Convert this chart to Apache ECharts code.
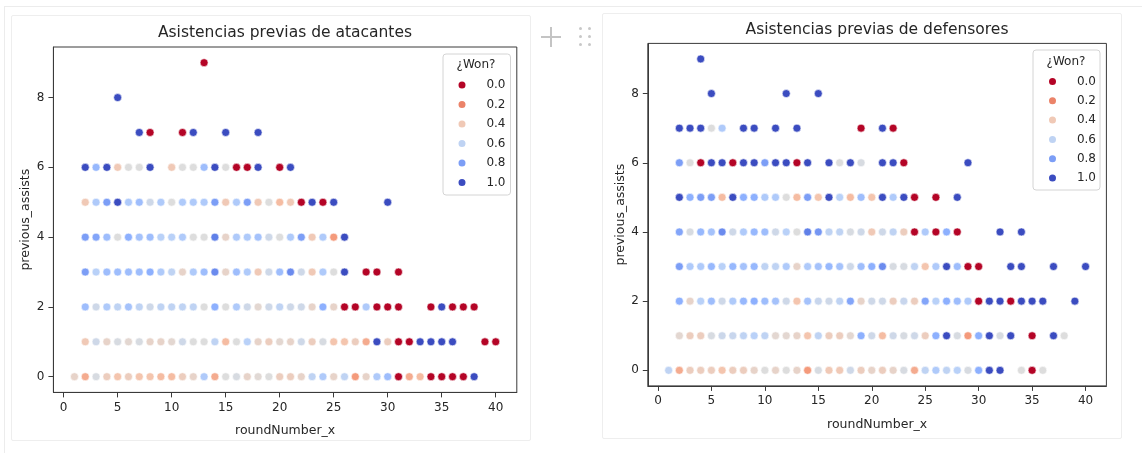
<!DOCTYPE html>
<html>
<head>
<meta charset="utf-8">
<script src="https://cdn.jsdelivr.net/npm/echarts@6/dist/echarts.min.js"></script>
<style>
    body {margin:0;background:#fff;font-family:"DejaVu Sans",sans-serif;}
    .cell-top {position:absolute;left:4px;top:6px;width:1138px;height:447px;border-top:1px solid #ececec;border-left:1px solid #ececec;}
    .fig-box {position:absolute;border:1px solid #eeeeee;border-radius:2px;}
    .plus-h {position:absolute;left:541px;top:36px;width:20px;height:1.5px;background:#c4c4c4;}
    .plus-v {position:absolute;left:550px;top:27px;width:1.5px;height:20px;background:#c4c4c4;}
    .dot {position:absolute;width:3px;height:3px;border-radius:50%;background:#c8c8c8;}
    #chart {position:absolute;left:0;top:0;width:1142px;height:453px;}
</style>
</head>
<body>
<div class="cell-top"></div>
<div class="fig-box" style="left:11px;top:15px;width:518px;height:424px;"></div>
<div class="fig-box" style="left:602px;top:13px;width:518px;height:424px;"></div>
<div class="plus-h"></div><div class="plus-v"></div>
<div class="dot" style="left:579px;top:27px"></div><div class="dot" style="left:588px;top:27px"></div>
<div class="dot" style="left:579px;top:35px"></div><div class="dot" style="left:588px;top:35px"></div>
<div class="dot" style="left:579px;top:43px"></div><div class="dot" style="left:588px;top:43px"></div>
<div id="chart"></div>
<script>
    // ticks and legend levels
    var ticksX = [0, 5, 10, 15, 20, 25, 30, 35, 40];
    var ticksY = [0, 2, 4, 6, 8];
    var wonLevels = ['0.0', '0.2', '0.4', '0.6', '0.8', '1.0'];
    // coolwarm reversed: 0 -> red, 1 -> blue
    var coolwarmR = ['#b40426', '#de604d', '#f49a7b', '#f5c4ac', '#dddddd', '#b8d0f9', '#8db0fe', '#6282ea', '#3b4cc0'];

    // [roundNumber_x, previous_assists, won]
    var atacantes = [
        [13, 9, 0],
        [5, 8, 1],
        [7, 7, 1], [8, 7, 0], [11, 7, 0], [12, 7, 1], [15, 7, 1], [18, 7, 1],
        [2, 6, 1], [3, 6, 0.72], [4, 6, 1], [5, 6, 0.4], [6, 6, 0.5], [7, 6, 0.5], [8, 6, 1], [10, 6, 0.4], [11, 6, 0.5],
        [12, 6, 0.5], [13, 6, 0.7], [14, 6, 1], [15, 6, 0.5], [16, 6, 0], [17, 6, 0], [18, 6, 1], [20, 6, 0], [21, 6, 1],
        [2, 5, 0.4], [3, 5, 0.65], [4, 5, 0.8], [5, 5, 1], [6, 5, 0.65], [7, 5, 0.7], [8, 5, 0.55], [9, 5, 0.65], [10, 5, 0.5],
        [11, 5, 0.65], [12, 5, 0.65], [13, 5, 0.65], [14, 5, 0.8], [15, 5, 0.4], [16, 5, 0.65], [17, 5, 0.8], [18, 5, 0.4],
        [19, 5, 0.5], [20, 5, 0.35], [21, 5, 0.4], [22, 5, 0], [23, 5, 1], [24, 5, 0], [25, 5, 1], [30, 5, 1],
        [2, 4, 0.8], [3, 4, 0.78], [4, 4, 0.7], [5, 4, 0.5], [6, 4, 0.75], [7, 4, 0.68], [8, 4, 0.7], [9, 4, 0.62], [10, 4, 0.62],
        [11, 4, 0.65], [12, 4, 0.5], [13, 4, 0.5], [14, 4, 0.88], [15, 4, 0.45], [16, 4, 0.65], [17, 4, 0.65], [18, 4, 0.68],
        [19, 4, 0.55], [20, 4, 0.5], [21, 4, 0.65], [22, 4, 0.8], [23, 4, 0.4], [24, 4, 0.65], [25, 4, 0.25], [26, 4, 1],
        [2, 3, 0.8], [3, 3, 0.62], [4, 3, 0.7], [5, 3, 0.7], [6, 3, 0.7], [7, 3, 0.7], [8, 3, 0.75], [9, 3, 0.65], [10, 3, 0.6],
        [11, 3, 0.45], [12, 3, 0.65], [13, 3, 0.7], [14, 3, 0.85], [15, 3, 0.45], [16, 3, 0.7], [17, 3, 0.65], [18, 3, 0.4],
        [19, 3, 0.55], [20, 3, 0.7], [21, 3, 0.85], [22, 3, 0.55], [23, 3, 0.4], [24, 3, 0.65], [25, 3, 0.5], [26, 3, 1],
        [28, 3, 0], [29, 3, 0], [31, 3, 0],
        [2, 2, 0.7], [3, 2, 0.55], [4, 2, 0.65], [5, 2, 0.6], [6, 2, 0.68], [7, 2, 0.6], [8, 2, 0.55], [9, 2, 0.6], [10, 2, 0.6],
        [11, 2, 0.6], [12, 2, 0.6], [13, 2, 0.5], [14, 2, 0.75], [15, 2, 0.5], [16, 2, 0.65], [17, 2, 0.55], [18, 2, 0.47],
        [19, 2, 0.55], [20, 2, 0.6], [21, 2, 0.55], [22, 2, 0.55], [23, 2, 0.45], [24, 2, 0.75], [25, 2, 0.45], [26, 2, 0],
        [27, 2, 0], [28, 2, 0.65], [29, 2, 0], [30, 2, 0], [31, 2, 0], [34, 2, 0], [35, 2, 1], [36, 2, 0], [37, 2, 0], [38, 2, 0],
        [2, 1, 0.4], [3, 1, 0.55], [4, 1, 0.45], [5, 1, 0.52], [6, 1, 0.47], [7, 1, 0.52], [8, 1, 0.45], [9, 1, 0.45], [10, 1, 0.47],
        [11, 1, 0.55], [12, 1, 0.5], [13, 1, 0.5], [14, 1, 0.6], [15, 1, 0.35], [16, 1, 0.5], [17, 1, 0.62], [18, 1, 0.45],
        [19, 1, 0.42], [20, 1, 0.47], [21, 1, 0.45], [22, 1, 0.55], [23, 1, 0.42], [24, 1, 0.52], [25, 1, 0.38], [26, 1, 0.38],
        [27, 1, 0.42], [28, 1, 0.3], [29, 1, 1], [30, 1, 0.42], [31, 1, 0], [32, 1, 0], [33, 1, 1], [34, 1, 1], [35, 1, 1],
        [36, 1, 1], [39, 1, 0], [40, 1, 0],
        [1, 0, 0.45], [2, 0, 0.3], [3, 0, 0.52], [4, 0, 0.42], [5, 0, 0.38], [6, 0, 0.42], [7, 0, 0.38], [8, 0, 0.38], [9, 0, 0.35],
        [10, 0, 0.35], [11, 0, 0.42], [12, 0, 0.45], [13, 0, 0.65], [14, 0, 0.3], [15, 0, 0.5], [16, 0, 0.52], [17, 0, 0.45],
        [18, 0, 0.48], [19, 0, 0.5], [20, 0, 0.42], [21, 0, 0.42], [22, 0, 0.45], [23, 0, 0.6], [24, 0, 0.65], [25, 0, 0.45],
        [26, 0, 0.6], [27, 0, 0.25], [28, 0, 0.45], [29, 0, 0.65], [30, 0, 0.7], [31, 0, 0], [32, 0, 0.3], [33, 0, 0.35],
        [34, 0, 0], [35, 0, 0], [36, 0, 0], [37, 0, 0], [38, 0, 1]
    ];

    var defensores = [
        [4, 9, 1],
        [5, 8, 1], [12, 8, 1], [15, 8, 1],
        [2, 7, 1], [3, 7, 1], [4, 7, 1], [5, 7, 0.5], [6, 7, 0.65], [8, 7, 1], [9, 7, 1], [11, 7, 1], [13, 7, 1], [19, 7, 0],
        [21, 7, 1], [22, 7, 0],
        [2, 6, 0.8], [3, 6, 0.5], [4, 6, 0], [5, 6, 1], [6, 6, 1], [7, 6, 0], [8, 6, 1], [9, 6, 1], [10, 6, 0.8], [11, 6, 1],
        [12, 6, 1], [13, 6, 0], [14, 6, 1], [16, 6, 1], [17, 6, 0.5], [18, 6, 1], [19, 6, 0.52], [21, 6, 1], [22, 6, 1],
        [23, 6, 0], [29, 6, 1],
        [2, 5, 1], [3, 5, 0.75], [4, 5, 0.8], [5, 5, 0.8], [6, 5, 0.35], [7, 5, 1], [8, 5, 0.75], [9, 5, 0.75], [10, 5, 0.65],
        [11, 5, 0.65], [12, 5, 0.5], [13, 5, 0.35], [14, 5, 0.8], [15, 5, 0.38], [16, 5, 1], [17, 5, 0.62], [18, 5, 0.35],
        [19, 5, 0.7], [20, 5, 0.38], [21, 5, 1], [22, 5, 0.65], [23, 5, 1], [24, 5, 0], [26, 5, 0], [28, 5, 1],
        [2, 4, 0.78], [3, 4, 0.52], [4, 4, 0.72], [5, 4, 0.68], [6, 4, 0.85], [7, 4, 0.55], [8, 4, 0.65], [9, 4, 0.72],
        [10, 4, 0.7], [11, 4, 0.55], [12, 4, 0.62], [13, 4, 0.5], [14, 4, 0.88], [15, 4, 0.82], [16, 4, 0.6], [17, 4, 0.6],
        [18, 4, 0.52], [19, 4, 0.55], [20, 4, 0.4], [21, 4, 0.55], [22, 4, 0.6], [23, 4, 0.42], [24, 4, 0], [25, 4, 0.65],
        [26, 4, 0], [27, 4, 0.75], [28, 4, 0], [32, 4, 1], [34, 4, 1],
        [2, 3, 0.8], [3, 3, 0.65], [4, 3, 0.65], [5, 3, 0.72], [6, 3, 0.62], [7, 3, 0.72], [8, 3, 0.68], [9, 3, 0.72],
        [10, 3, 0.6], [11, 3, 0.6], [12, 3, 0.65], [13, 3, 0.45], [14, 3, 0.65], [15, 3, 0.68], [16, 3, 0.72], [17, 3, 0.68],
        [18, 3, 0.55], [19, 3, 0.7], [20, 3, 0.75], [21, 3, 0.85], [22, 3, 0.52], [23, 3, 0.52], [24, 3, 0.6], [25, 3, 0.38],
        [26, 3, 0.65], [27, 3, 1], [28, 3, 0.7], [29, 3, 0], [30, 3, 0], [33, 3, 1], [34, 3, 1], [37, 3, 1], [40, 3, 1],
        [2, 2, 0.75], [3, 2, 0.45], [4, 2, 0.62], [5, 2, 0.7], [6, 2, 0.55], [7, 2, 0.65], [8, 2, 0.72], [9, 2, 0.75],
        [10, 2, 0.7], [11, 2, 0.68], [12, 2, 0.55], [13, 2, 0.38], [14, 2, 0.68], [15, 2, 0.57], [16, 2, 0.55], [17, 2, 0.6],
        [18, 2, 0.78], [19, 2, 0.45], [20, 2, 0.55], [21, 2, 0.55], [22, 2, 0.42], [23, 2, 0.57], [24, 2, 0.42], [25, 2, 0.78],
        [26, 2, 0.62], [27, 2, 0.75], [28, 2, 0.7], [29, 2, 0.65], [30, 2, 0], [31, 2, 1], [32, 2, 1], [33, 2, 0], [34, 2, 1],
        [35, 2, 1], [36, 2, 1], [39, 2, 1],
        [2, 1, 0.47], [3, 1, 0.42], [4, 1, 0.42], [5, 1, 0.52], [6, 1, 0.56], [7, 1, 0.57], [8, 1, 0.6], [9, 1, 0.62],
        [10, 1, 0.6], [11, 1, 0.47], [12, 1, 0.47], [13, 1, 0.45], [14, 1, 0.38], [15, 1, 0.6], [16, 1, 0.42], [17, 1, 0.42],
        [18, 1, 0.47], [19, 1, 0.75], [20, 1, 0.55], [21, 1, 0.35], [22, 1, 0.55], [23, 1, 0.52], [24, 1, 0.55], [25, 1, 0.42],
        [26, 1, 0.75], [27, 1, 1], [28, 1, 0.52], [29, 1, 0.25], [30, 1, 0.75], [31, 1, 1], [32, 1, 0.52], [33, 1, 1],
        [35, 1, 0], [37, 1, 1], [38, 1, 0.5],
        [1, 0, 0.6], [2, 0, 0.3], [3, 0, 0.42], [4, 0, 0.42], [5, 0, 0.42], [6, 0, 0.38], [7, 0, 0.42], [8, 0, 0.42],
        [9, 0, 0.45], [10, 0, 0.5], [11, 0, 0.45], [12, 0, 0.5], [13, 0, 0.45], [14, 0, 0.25], [15, 0, 0.52], [16, 0, 0.4],
        [17, 0, 0.4], [18, 0, 0.55], [19, 0, 0.42], [20, 0, 0.45], [21, 0, 0.42], [22, 0, 0.45], [23, 0, 0.52], [24, 0, 0.3],
        [25, 0, 0.6], [26, 0, 0.65], [27, 0, 0.6], [28, 0, 0.62], [29, 0, 0.52], [30, 0, 0.75], [31, 0, 1], [32, 0, 1],
        [34, 0, 0.5], [35, 0, 0], [36, 0, 0.5]
    ];

    // color for a legend level, same scale as the visualMap
    function paletteAt(v) {
        var p = v * (coolwarmR.length - 1), i = Math.min(Math.floor(p), coolwarmR.length - 2), t = p - i;
        var a = coolwarmR[i], b = coolwarmR[i + 1];
        var out = '#';
        for (var k = 1; k < 7; k += 2) {
            var c = Math.round(parseInt(a.substr(k, 2), 16) * (1 - t) + parseInt(b.substr(k, 2), 16) * t);
            out += ('0' + c.toString(16)).slice(-2);
        }
        return out;
    }

    var txt = '#262626';
    var font = 'DejaVu Sans';

    function makeX(gi) {
        return {
            type: 'value', gridIndex: gi, min: -0.95, max: 41.95,
            name: 'roundNumber_x', nameLocation: 'middle', nameGap: 32,
            nameTextStyle: {color: txt, fontSize: 12.5, fontFamily: font},
            splitLine: {show: false},
            axisLine: {show: true, onZero: false, lineStyle: {color: '#3a3a3a', width: 1}},
            axisTick: {show: true, length: 5, customValues: ticksX, lineStyle: {color: '#3a3a3a'}},
            axisLabel: {customValues: ticksX, margin: 9, color: txt, fontSize: 12, fontFamily: font}
        };
    }
    function makeY(gi) {
        return {
            type: 'value', gridIndex: gi, min: -0.45, max: 9.45,
            name: 'previous_assists', nameLocation: 'middle', nameGap: 21,
            nameTextStyle: {color: txt, fontSize: 12.5, fontFamily: font},
            splitLine: {show: false},
            axisLine: {show: true, onZero: false, lineStyle: {color: '#3a3a3a', width: 1}},
            axisTick: {show: true, length: 5, customValues: ticksY, lineStyle: {color: '#3a3a3a'}},
            axisLabel: {customValues: ticksY, margin: 9, color: txt, fontSize: 12, fontFamily: font}
        };
    }
    function makeLegend(left, top, padding, gap) {
        return {
            orient: 'vertical', left: left, top: top, padding: padding,
            itemWidth: 9, itemHeight: 9, itemGap: gap, icon: 'circle', selectedMode: false,
            backgroundColor: '#fff', borderColor: '#d4d4d4', borderWidth: 1, borderRadius: 3,
            formatter: '{v|{name}}',
            textStyle: {color: txt, fontSize: 12, fontFamily: font,
                rich: {v: {width: 34, align: 'right', fontSize: 12, lineHeight: 12, color: txt, fontFamily: font}}},
            data: wonLevels
        };
    }

    var series = [
        {type: 'scatter', xAxisIndex: 0, yAxisIndex: 0, data: atacantes, symbolSize: 8,
            itemStyle: {borderColor: '#fff', borderWidth: 0.6, opacity: 1}},
        {type: 'scatter', xAxisIndex: 1, yAxisIndex: 1, data: defensores, symbolSize: 8,
            itemStyle: {borderColor: '#fff', borderWidth: 0.6, opacity: 1}}
    ];
    wonLevels.forEach(function (lv) {
        series.push({type: 'scatter', name: lv, xAxisIndex: 0, yAxisIndex: 0, data: [],
            itemStyle: {color: paletteAt(parseFloat(lv)), borderColor: '#fff', borderWidth: 0.6, opacity: 1}});
    });

    var chart = echarts.init(document.getElementById('chart'), null, {renderer: 'canvas'});
    chart.setOption({
        animation: false,
        textStyle: {fontFamily: font},
        grid: [
            {left: 53.4, top: 47, width: 463.4, height: 345.4, show: true, borderColor: '#3a3a3a', borderWidth: 1,
                backgroundColor: 'transparent', outerBoundsMode: 'none'},
            {left: 647.8, top: 43.4, width: 458.6, height: 342.5, show: true, borderColor: '#3a3a3a', borderWidth: 1,
                backgroundColor: 'transparent', outerBoundsMode: 'none'}
        ],
        xAxis: [makeX(0), makeX(1)],
        yAxis: [makeY(0), makeY(1)],
        visualMap: [{
            type: 'continuous', show: false, dimension: 2, min: 0, max: 1, seriesIndex: [0, 1],
            inRange: {color: coolwarmR}
        }],
        legend: [
            makeLegend(443, 54, [25, 5, 6.5, 13.5], 7.5),
            makeLegend(1033, 50, [25.5, 4, 6, 14], 7.3)
        ],
        graphic: [
            {type: 'text', x: 285, y: 33, z: 100, style: {text: 'Asistencias previas de atacantes', align: 'center',
                verticalAlign: 'middle', fontSize: 15.5, fontFamily: font, fill: txt}},
            {type: 'text', x: 877, y: 30, z: 100, style: {text: 'Asistencias previas de defensores', align: 'center',
                verticalAlign: 'middle', fontSize: 15.5, fontFamily: font, fill: txt}},
            {type: 'text', x: 476, y: 65, z: 100, style: {text: '¿Won?', align: 'center',
                verticalAlign: 'middle', fontSize: 12, fontFamily: font, fill: txt}},
            {type: 'text', x: 1066, y: 62, z: 100, style: {text: '¿Won?', align: 'center',
                verticalAlign: 'middle', fontSize: 12, fontFamily: font, fill: txt}}
        ],
        series: series
    });
</script>
</body>
</html>
